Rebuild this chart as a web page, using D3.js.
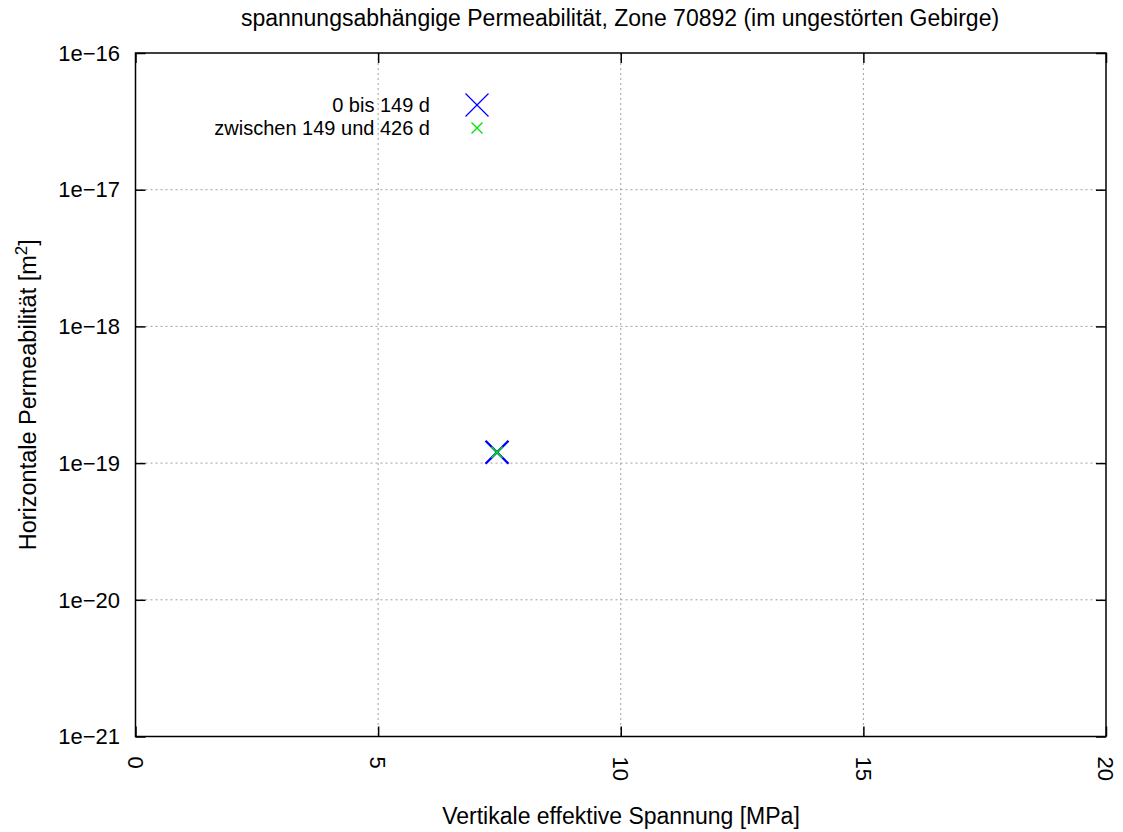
<!DOCTYPE html>
<html>
<head>
<meta charset="utf-8">
<script src="https://cdn.jsdelivr.net/npm/d3@7"></script>
<style>
  body { margin: 0; background: #fff; }
  svg text { font-family: "Liberation Sans", Arial, sans-serif; fill: #000; }
</style>
</head>
<body>
<svg id="chart" width="1123" height="832"></svg>
<script>
const title = "spannungsabhängige Permeabilität, Zone 70892 (im ungestörten Gebirge)";
const xLabel = "Vertikale effektive Spannung [MPa]";
const seriesNames = ["0 bis 149 d", "zwischen 149 und 426 d"];
const seriesColors = ["#0000ff", "#00e000"];
const seriesA_x = [7.45];
const seriesA_y = [1.2e-19];
const seriesB_x = [7.45];
const seriesB_y = [1.2e-19];
const xTicks = [0, 5, 10, 15, 20];
const yTicks = [1e-21, 1e-20, 1e-19, 1e-18, 1e-17, 1e-16];
const yTickLabels = ["1e\u221221", "1e\u221220", "1e\u221219", "1e\u221218", "1e\u221217", "1e\u221216"];

const svg = d3.select("#chart");
const L = 135.5, R = 1106, T = 53, B = 736.5;
const x = d3.scaleLinear().domain([0, 20]).range([L, R]);
const y = d3.scaleLog().domain([1e-21, 1e-16]).range([B, T]);

// grid
const grid = svg.append("g");
xTicks.slice(1, -1).forEach(v => {
  grid.append("line").attr("x1", x(v)).attr("x2", x(v)).attr("y1", T).attr("y2", B)
    .attr("stroke", "#a0a0a0").attr("stroke-width", 1).attr("stroke-dasharray", "2,3");
});
yTicks.slice(1, -1).forEach(v => {
  grid.append("line").attr("x1", L).attr("x2", R).attr("y1", y(v)).attr("y2", y(v))
    .attr("stroke", "#a0a0a0").attr("stroke-width", 1).attr("stroke-dasharray", "2,3");
});

// axes with inward ticks
const fs = 23;
const yAxisL = svg.append("g").attr("transform", `translate(${L},0)`)
  .call(d3.axisRight(y).tickValues(yTicks).tickFormat(() => "").tickSize(10).tickSizeOuter(0));
const yAxisR = svg.append("g").attr("transform", `translate(${R},0)`)
  .call(d3.axisLeft(y).tickValues(yTicks).tickFormat(() => "").tickSize(10).tickSizeOuter(0));
const xAxisB = svg.append("g").attr("transform", `translate(0,${B})`)
  .call(d3.axisTop(x).tickValues(xTicks).tickFormat(() => "").tickSize(10).tickSizeOuter(0));
const xAxisT = svg.append("g").attr("transform", `translate(0,${T})`)
  .call(d3.axisBottom(x).tickValues(xTicks).tickFormat(() => "").tickSize(10).tickSizeOuter(0));
[yAxisL, yAxisR, xAxisB, xAxisT].forEach(g => {
  g.selectAll("path.domain").remove();
  g.selectAll("line").attr("stroke", "#000").attr("stroke-width", 1.5);
});

// frame
svg.append("rect").attr("x", L).attr("y", T).attr("width", R - L).attr("height", B - T)
  .attr("fill", "none").attr("stroke", "#000").attr("stroke-width", 1.5);

// y tick labels
yTicks.forEach((v, i) => {
  svg.append("text").attr("x", 120).attr("y", y(v)).attr("dy", "0.35em")
    .attr("text-anchor", "end").attr("font-size", fs - 1).text(yTickLabels[i]);
});
// x tick labels rotated
xTicks.forEach(v => {
  svg.append("text").attr("transform", `translate(${x(v)},${B + 20}) rotate(90)`)
    .attr("dy", "0.35em").attr("text-anchor", "start").attr("font-size", fs - 1).text(String(v));
});

// title and axis labels
svg.append("text").attr("x", 620).attr("y", 26).attr("text-anchor", "middle").attr("font-size", fs).text(title);
svg.append("text").attr("x", 621).attr("y", 824).attr("text-anchor", "middle").attr("font-size", fs).text(xLabel);
const yl = svg.append("text").attr("transform", `translate(36,${(T + B) / 2}) rotate(-90)`)
  .attr("text-anchor", "middle").attr("font-size", fs + 0.5);
yl.append("tspan").text("Horizontale Permeabilität [m");
yl.append("tspan").attr("baseline-shift", "super").attr("font-size", 17).text("2");
yl.append("tspan").text("]");

// markers
function cross(g, cx, cy, h, color, w) {
  g.append("path").attr("d", `M${cx - h},${cy - h}L${cx + h},${cy + h}M${cx - h},${cy + h}L${cx + h},${cy - h}`)
    .attr("stroke", color).attr("stroke-width", w).attr("fill", "none");
}
const pts = svg.append("g");
seriesA_x.forEach((v, i) => cross(pts, x(v), y(seriesA_y[i]), 11.5, seriesColors[0], 2.4));
seriesB_x.forEach((v, i) => cross(pts, x(v), y(seriesB_y[i]), 5.5, seriesColors[1], 1.6));

// legend
const legY = [105, 128];
const legSize = [11.5, 5.5];
const legW = [1.2, 1.3];
seriesNames.forEach((n, i) => {
  svg.append("text").attr("x", 430).attr("y", legY[i]).attr("dy", "0.35em")
    .attr("text-anchor", "end").attr("font-size", 20).text(n);
  cross(svg, 477, legY[i], legSize[i], seriesColors[i], legW[i]);
});
</script>
</body>
</html>
